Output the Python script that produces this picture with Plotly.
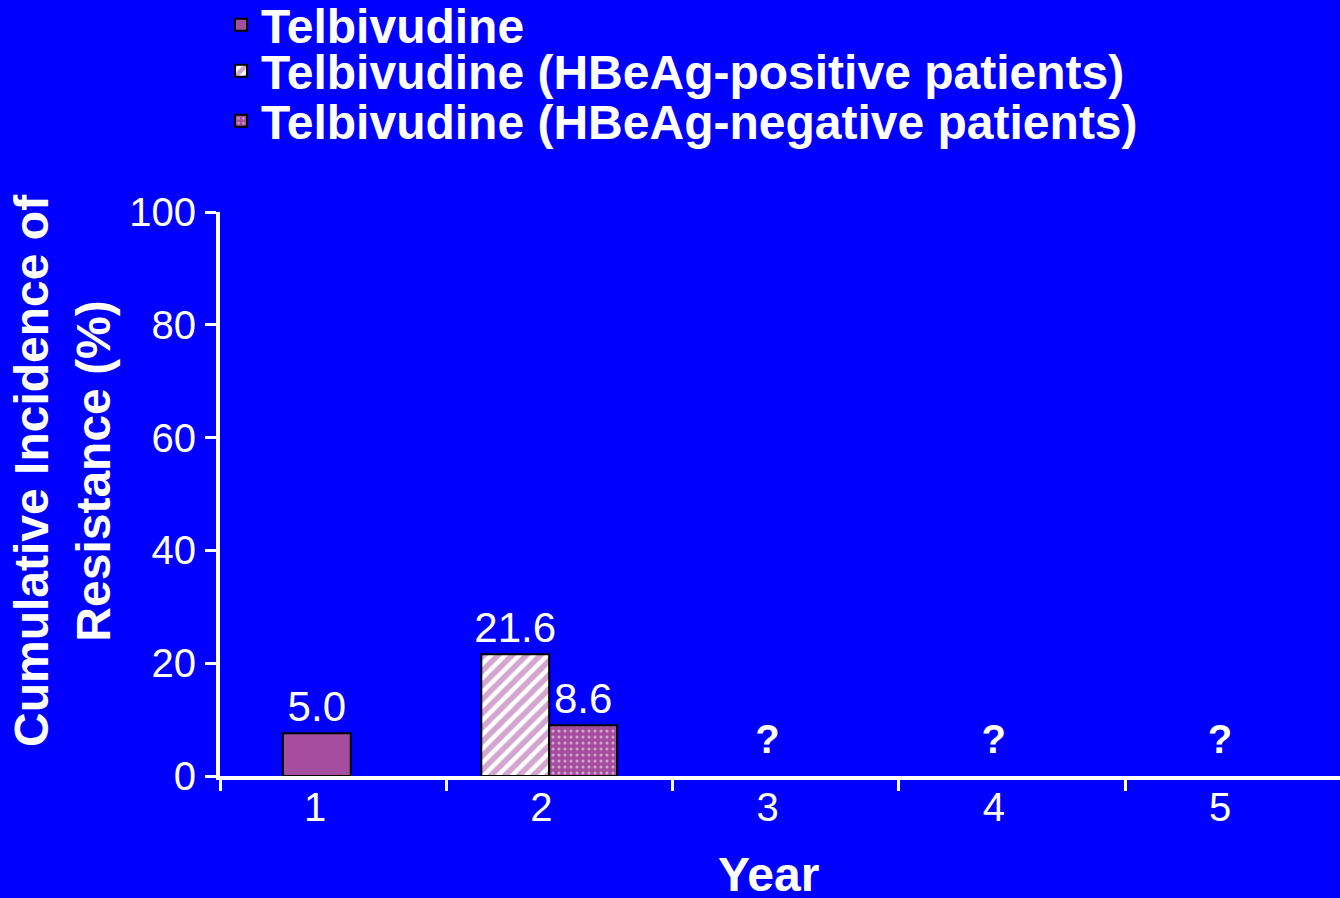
import plotly.graph_objects as go

# ---- data ----
years = [1, 2, 3, 4, 5]
year_labels = ["1", "2", "3", "4", "5"]
series_names = [
    "Telbivudine",
    "Telbivudine (HBeAg-positive patients)",
    "Telbivudine (HBeAg-negative patients)",
]
all_x = [1]
all_values = [7.6]
all_labels = ["5.0"]
pos_x = [2]
pos_values = [21.6]
pos_labels = ["21.6"]
neg_x = [2]
neg_values = [9.0]
neg_labels = ["8.6"]
unknown_x = [3, 4, 5]
unknown_y = [5.8, 5.8, 5.8]
unknown_text = ["?", "?", "?"]
y_ticks = [0, 20, 40, 60, 80, 100]

PURPLE = "#A54E9F"
BG = "#0000FF"
FONT = "Liberation Sans, Arial, sans-serif"
W, H = 1340, 898
L, R, T, B = 220, 0, 212, 122

fig = go.Figure()

fig.add_trace(go.Bar(
    x=all_x, y=all_values, text=all_labels, name=series_names[0],
    width=0.3, offset=-0.142,
    marker=dict(color=PURPLE, line=dict(color="black", width=2)),
    textposition="outside", cliponaxis=False, constraintext="none",
    textfont=dict(color="white", size=42, family=FONT),
    legend="legend",
))
fig.add_trace(go.Bar(
    x=pos_x, y=pos_values, text=pos_labels, name=series_names[1],
    width=0.3, offset=-0.265,
    marker=dict(color="white", line=dict(color="black", width=2),
                pattern=dict(shape="/", fgcolor=PURPLE, bgcolor="white",
                             size=10, solidity=0.55)),
    textposition="outside", cliponaxis=False, constraintext="none",
    textfont=dict(color="white", size=42, family=FONT),
    legend="legend2",
))
fig.add_trace(go.Bar(
    x=neg_x, y=neg_values, text=neg_labels, name=series_names[2],
    width=0.3, offset=0.035,
    marker=dict(color=PURPLE, line=dict(color="black", width=2),
                pattern=dict(shape=".", fgcolor="white", bgcolor=PURPLE,
                             size=6, solidity=0.2)),
    textposition="outside", cliponaxis=False, constraintext="none",
    textfont=dict(color="white", size=42, family=FONT),
    legend="legend3",
))
fig.add_trace(go.Scatter(
    x=unknown_x, y=unknown_y, text=unknown_text, mode="text",
    textfont=dict(color="white", size=40, family=FONT, weight="bold"),
    showlegend=False, cliponaxis=False,
))

plot_w = W - L - R
px_per_unit = 226.25
x0 = 1 - 95 / px_per_unit
x1 = x0 + plot_w / px_per_unit

legend_common = dict(
    xref="container", yref="container", x=221 / W, xanchor="left",
    yanchor="middle", bgcolor="rgba(0,0,0,0)",
    font=dict(color="white", size=48, family=FONT, weight="bold"),
)

fig.update_layout(
    width=W, height=H,
    paper_bgcolor=BG, plot_bgcolor=BG,
    margin=dict(l=L, r=R, t=T, b=B, autoexpand=False),
    barmode="overlay",
    showlegend=True,
    legend=dict(y=1 - 25 / H, **legend_common),
    legend2=dict(y=1 - 71 / H, **legend_common),
    legend3=dict(y=1 - 121 / H, **legend_common),
    xaxis=dict(
        range=[x0, x1], tickvals=years, ticktext=year_labels,
        ticks="", ticklen=0, showgrid=False, zeroline=False,
        showline=True, linecolor="white", linewidth=4,
        tickfont=dict(color="white", size=40, family=FONT),
        ticklabelstandoff=-7,
        minor=dict(tick0=x0, dtick=1, ticks="outside", ticklen=11,
                   tickwidth=3, tickcolor="white", showgrid=False),
    ),
    yaxis=dict(
        range=[0, 100], tickvals=y_ticks, ticks="outside", ticklen=11,
        tickwidth=3, tickcolor="white", showgrid=False, zeroline=False,
        showline=True, linecolor="white", linewidth=4,
        tickfont=dict(color="white", size=40, family=FONT),
        ticklabelstandoff=1,
    ),
    annotations=[
        dict(text="Cumulative Incidence of<br>Resistance (%)",
             xref="paper", yref="paper",
             x=(62 - L) / plot_w, y=(776 - 471) / 564,
             xanchor="center", yanchor="middle", textangle=-90,
             showarrow=False,
             font=dict(color="white", size=48, family=FONT, weight="bold")),
        dict(text="Year", xref="paper", yref="paper",
             x=(768 - L) / plot_w, y=(776 - 874) / 564,
             xanchor="center", yanchor="middle", showarrow=False,
             font=dict(color="white", size=48, family=FONT, weight="bold")),
    ],
)

fig.write_html(
    "out.html",
    config={"displayModeBar": False},
    post_script="document.body.style.margin='0';"
                "document.body.style.background='#0000FF';",
)
